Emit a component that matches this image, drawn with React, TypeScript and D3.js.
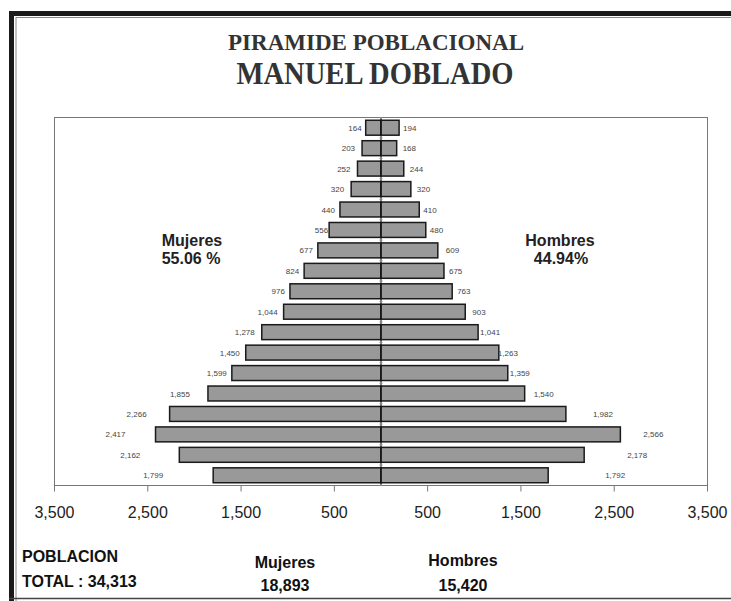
import React from "react";
import * as d3 from "d3";

const ageGroups = ["85+","80-84","75-79","70-74","65-69","60-64","55-59","50-54","45-49","40-44","35-39","30-34","25-29","20-24","15-19","10-14","5-9","0-4"];
const mujeres = [164,203,252,320,440,556,677,824,976,1044,1278,1450,1599,1855,2266,2417,2162,1799];
const hombres = [194,168,244,320,410,480,609,675,763,903,1041,1263,1359,1540,1982,2566,2178,1792];
const tickValues = [-3500,-2500,-1500,-500,500,1500,2500,3500];
const pctMujeres = "55.06 %";
const pctHombres = "44.94%";
const totalPoblacion = "34,313";
const totalMujeres = "18,893";
const totalHombres = "15,420";

// label gaps (px) between bar end and its value label, as placed in the original
const labelGapF = [4,7,7,7,5,1,5,5,5,6,7,6,5,18,23,30,39,50];
const labelGapM = [4,6,6,6,4,4,8,5,5,7,2,-1,2,9,27,23,43,57];

const W = 731, H = 601;
const box = { left: 54.5, right: 707.5, top: 117.5, bottom: 485.5 };

export default function App() {
  const x = d3.scaleLinear().domain([-3500, 3500]).range([box.left, box.right]);
  const y = d3.scaleBand<string>().domain(ageGroups).range([box.top, box.bottom]).paddingInner(0.27).paddingOuter(0.135);
  const fmt = d3.format(",");
  const cx = x(0);
  const bw = y.bandwidth();
  const step = y.step();
  const sans = "'Liberation Sans', Arial, sans-serif";
  const serif = "'Liberation Serif', 'Times New Roman', serif";
  return (
    <div style={{ position: "absolute", left: 0, top: 0 }}>
      <svg width={W} height={H} style={{ display: "block", background: "#fff" }}>
        {/* frame */}
        <rect x={9} y={11} width={W} height={5} fill="#1a1a1a" />
        <rect x={9} y={11} width={5} height={H} fill="#1a1a1a" />
        <line x1={16} y1={17.5} x2={W} y2={17.5} stroke="#888" strokeWidth={1} />
        <line x1={16} y1={17} x2={16} y2={H} stroke="#888" strokeWidth={1} />
        <line x1={9} y1={598.5} x2={W} y2={598.5} stroke="#444" strokeWidth={1.5} />

        {/* titles */}
        <text x={376} y={50} textAnchor="middle" fontFamily={serif} fontWeight="bold" fontSize={24} fill="#333" textLength={296} lengthAdjust="spacingAndGlyphs">PIRAMIDE POBLACIONAL</text>
        <text x={375} y={84} textAnchor="middle" fontFamily={serif} fontWeight="bold" fontSize={31} fill="#333" textLength={277} lengthAdjust="spacingAndGlyphs">MANUEL DOBLADO</text>

        {/* plot box */}
        <rect x={box.left} y={box.top} width={box.right - box.left} height={box.bottom - box.top} fill="none" stroke="#777" strokeWidth={1} />

        {/* bars */}
        {ageGroups.map((g, i) => (
          <g key={g}>
            <rect x={x(-mujeres[i])} y={y(g)} width={cx - x(-mujeres[i])} height={bw} fill="#999" stroke="#1a1a1a" strokeWidth={1.5} />
            <rect x={cx} y={y(g)} width={x(hombres[i]) - cx} height={bw} fill="#999" stroke="#1a1a1a" strokeWidth={1.5} />
            <text x={x(-mujeres[i]) - labelGapF[i]} y={(y(g) as number) + bw / 2 + 3} textAnchor="end" fontFamily={sans} fontSize={8} fill="#444">{fmt(mujeres[i])}</text>
            <text x={x(hombres[i]) + labelGapM[i]} y={(y(g) as number) + bw / 2 + 3} textAnchor="start" fontFamily={sans} fontSize={8} fill="#444">{fmt(hombres[i])}</text>
          </g>
        ))}

        {/* center axis */}
        <line x1={cx} y1={box.top} x2={cx} y2={box.bottom} stroke="#111" strokeWidth={1} />
        {d3.range(ageGroups.length + 1).map((i) => (
          <line key={i} x1={cx - 1.5} x2={cx + 1.5} y1={box.top + i * step} y2={box.top + i * step} stroke="#888" strokeWidth={1} />
        ))}

        {/* x axis ticks */}
        {tickValues.map((t) => (
          <g key={t}>
            <line x1={x(t)} x2={x(t)} y1={box.bottom} y2={box.bottom + 6} stroke="#777" strokeWidth={1} />
            <text x={x(t)} y={518} textAnchor="middle" fontFamily={sans} fontSize={16} fill="#222">{fmt(Math.abs(t))}</text>
          </g>
        ))}

        {/* percentages */}
        <text x={192} y={246} textAnchor="middle" fontFamily={sans} fontWeight="bold" fontSize={16} fill="#222">Mujeres</text>
        <text x={191} y={264} textAnchor="middle" fontFamily={sans} fontWeight="bold" fontSize={16} fill="#222">{pctMujeres}</text>
        <text x={560} y={246} textAnchor="middle" fontFamily={sans} fontWeight="bold" fontSize={16} fill="#222">Hombres</text>
        <text x={561} y={264} textAnchor="middle" fontFamily={sans} fontWeight="bold" fontSize={16} fill="#222">{pctHombres}</text>

        {/* totals */}
        <text x={22} y={562} fontFamily={sans} fontWeight="bold" fontSize={16} fill="#111">POBLACION</text>
        <text x={22} y={587} fontFamily={sans} fontWeight="bold" fontSize={16} fill="#111">{"TOTAL : " + totalPoblacion}</text>
        <text x={285} y={568} textAnchor="middle" fontFamily={sans} fontWeight="bold" fontSize={16} fill="#111">Mujeres</text>
        <text x={285} y={591} textAnchor="middle" fontFamily={sans} fontWeight="bold" fontSize={16} fill="#111">{totalMujeres}</text>
        <text x={463} y={566} textAnchor="middle" fontFamily={sans} fontWeight="bold" fontSize={16} fill="#111">Hombres</text>
        <text x={463} y={591} textAnchor="middle" fontFamily={sans} fontWeight="bold" fontSize={16} fill="#111">{totalHombres}</text>
      </svg>
    </div>
  );
}
